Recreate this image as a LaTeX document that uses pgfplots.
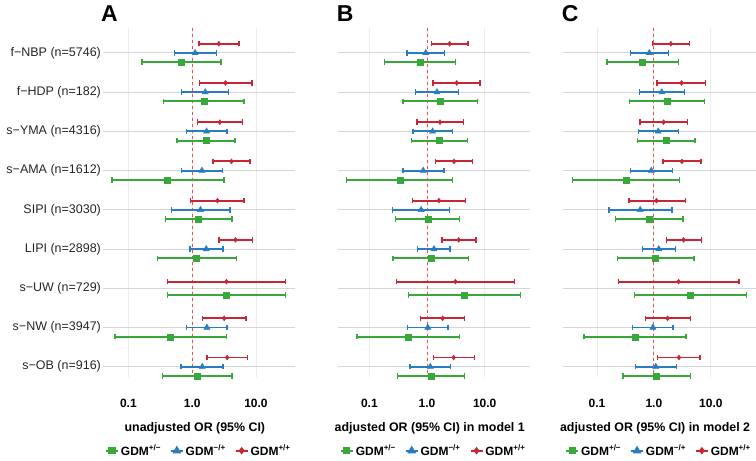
\documentclass[border=0pt]{standalone}
\usepackage{pgfplots}
\pgfplotsset{compat=1.18}
\usepackage{pgfplotstable}
\usepackage{fontspec}
\setmainfont{Liberation Sans}

\definecolor{cRed}{RGB}{200,38,52}
\definecolor{cBlue}{RGB}{42,124,192}
\definecolor{cGreen}{RGB}{56,168,58}
\definecolor{refline}{RGB}{238,80,80}

% Odds ratios with 95% CI: y position, lower, estimate, upper
% Panel A: unadjusted
\pgfplotstableread{
y lo est hi
0.765 1.27 2.62 5.45
1.765 1.30 3.33 8.6
2.765 1.21 2.71 6.2
3.765 2.13 4.13 8.0
4.765 0.94 2.49 6.5
5.765 2.62 4.77 8.8
6.83 0.406 3.45 29.3
7.765 1.45 3.17 7.0
8.765 1.70 3.53 7.4
}\ARed
\pgfplotstableread{
y lo est hi
1 0.53 1.11 2.38
2 0.68 1.60 3.71
3 0.81 1.68 3.49
4 0.68 1.42 2.99
5 0.47 1.35 3.94
6 0.92 1.66 3.06
8 0.81 1.70 3.53
9 0.67 1.44 3.06
}\ABlue
\pgfplotstableread{
y lo est hi
1.235 0.163 0.67 2.81
2.235 0.356 1.52 6.5
3.235 0.58 1.66 4.72
4.235 0.055 0.41 3.13
5.235 0.38 1.26 4.23
6.235 0.283 1.17 5.0
7.17 0.406 3.45 29.3
8.235 0.062 0.458 3.45
9.235 0.343 1.20 4.18
}\AGreen
% Panel B: model 1
\pgfplotstableread{
y lo est hi
0.765 1.19 2.47 5.14
1.765 1.27 3.27 8.3
2.765 0.67 1.68 4.27
3.765 1.40 2.94 6.19
4.765 0.557 1.61 4.69
5.765 1.82 3.54 7.08
6.83 0.298 3.10 33.1
7.765 0.776 1.87 4.50
8.765 1.31 2.90 6.62
}\BRed
\pgfplotstableread{
y lo est hi
1 0.45 0.95 2.02
2 0.63 1.49 3.54
3 0.57 1.25 2.79
4 0.384 0.86 1.97
5 0.254 0.79 2.47
6 0.69 1.32 2.50
8 0.456 1.03 2.31
9 0.507 1.14 2.57
}\BBlue
\pgfplotstableread{
y lo est hi
1.235 0.182 0.76 3.14
2.235 0.384 1.68 7.46
3.235 0.535 1.61 5.07
4.235 0.040 0.336 2.79
5.235 0.282 1.03 3.68
6.235 0.257 1.16 5.21
7.17 0.474 4.44 42.1
8.235 0.061 0.474 3.68
9.235 0.31 1.19 4.50
}\BGreen
% Panel C: model 2
\pgfplotstableread{
y lo est hi
0.765 0.95 1.99 4.22
1.765 1.13 3.06 8.06
2.765 0.568 1.48 3.90
3.765 1.44 3.10 6.68
4.765 0.364 1.11 3.55
5.765 1.65 3.32 6.77
6.83 0.24 2.71 31.0
7.765 0.705 1.74 4.34
8.765 1.17 2.75 6.50
}\CRed
\pgfplotstableread{
y lo est hi
1 0.385 0.83 1.81
2 0.553 1.38 3.45
3 0.531 1.19 2.71
4 0.385 0.90 2.10
5 0.164 0.575 2.07
6 0.633 1.22 2.40
8 0.422 0.96 2.18
9 0.47 1.08 2.50
}\CBlue
\pgfplotstableread{
y lo est hi
1.235 0.150 0.63 2.71
2.235 0.369 1.71 7.74
3.235 0.51 1.65 5.31
4.235 0.037 0.323 2.82
5.235 0.212 0.83 3.23
6.235 0.227 1.05 5.03
7.17 0.458 4.34 42.3
8.235 0.059 0.464 3.64
9.235 0.286 1.11 4.40
}\CGreen

\pgfplotsset{
  legend image code/.code={%
    \draw[#1, mark repeat=2, mark phase=2] plot coordinates {(0pt,0pt) (6pt,0pt) (12pt,0pt)};},
}
\pgfplotsset{every axis/.append style={
    scale only axis, width=192pt, height=349pt, anchor=south west,
    xmode=log, ymin=0.363, ymax=9.255, y dir=reverse,
    xtick={0.1,1,10}, xticklabels={0.1,1.0,10.0},
    ytick={1,2,3,4,5,6,7,8,9},
    xmajorgrids, ymajorgrids,
    x grid style={color=black!8, line width=0.8pt},
    y grid style={color=black!16, line width=1pt},
    axis line style={draw=none}, major tick length=0pt, minor tick length=0pt,
    tick style={draw=none}, minor tick style={draw=none},
    xticklabel style={font=\bfseries\fontsize{12}{14}\selectfont, yshift=-19pt},
    yticklabel style={font=\fontsize{12.5}{15}\selectfont, text=black!85, xshift=1.5pt},
    xlabel style={font=\bfseries\fontsize{12.4}{15}\selectfont,
      at={(axis description cs:0.5,0)}, anchor=center, yshift=-52pt, xshift=-4pt},
    legend style={at={(0.5,0)}, anchor=center, yshift=-74pt, draw=none, fill=none,
      font=\bfseries\fontsize{12}{14}\selectfont,
      /tikz/every even column/.append style={column sep=7pt}},
    legend columns=3,
    clip=false,
}}

% one group of point estimates with horizontal confidence intervals
\newcommand{\series}[4]{%
  \addplot[forget plot, only marks, color=#2, mark=#3, mark size=#4, mark options={solid, fill=#2},
    error bars/.cd, x dir=both, x explicit,
    error bar style={color=#2, line width=1.9pt},
    error mark options={color=#2, rotate=90, mark size=2.7pt, line width=1.4pt}]
    table[x=est, y=y,
      x error plus expr=\thisrow{hi}-\thisrow{est},
      x error minus expr=\thisrow{est}-\thisrow{lo}] {#1};
}
\newcommand{\reflineone}{%
  \addplot[forget plot, color=refline, dashed, line width=0.8pt] coordinates {(1,0.363) (1,9.255)};}
\newcommand{\keys}{%
  \addlegendimage{color=cGreen, line width=1.8pt, mark=square*, mark size=2.7pt, mark options={fill=cGreen}}
  \addlegendentry{GDM\textsuperscript{+/−}}
  \addlegendimage{color=cBlue, line width=1.8pt, mark=triangle*, mark size=3.3pt, mark options={fill=cBlue}}
  \addlegendentry{GDM\textsuperscript{−/+}}
  \addlegendimage{color=cRed, line width=1.8pt, mark=diamond*, mark size=2.4pt, mark options={fill=cRed}}
  \addlegendentry{GDM\textsuperscript{+/+}}
}

\begin{document}
\begin{tikzpicture}
\path (0pt,0pt) rectangle (756pt,459pt);

\begin{axis}[at={(103pt,82pt)},
  xmin=0.0399, xmax=40.6,
  yticklabels={f−NBP (n=5746),f−HDP (n=182),s−YMA (n=4316),s−AMA (n=1612),SIPI (n=3030),LIPI (n=2898),s−UW (n=729),s−NW (n=3947),s−OB (n=916)},
  xlabel={unadjusted OR (95\% CI)}]
\reflineone
\keys
\series{\AGreen}{cGreen}{square*}{3pt}
\series{\ABlue}{cBlue}{triangle*}{3.6pt}
\series{\ARed}{cRed}{diamond*}{2.5pt}
\end{axis}

\begin{axis}[at={(338pt,82pt)},
  xmin=0.0283, xmax=60.3, yticklabels={},
  xlabel={adjusted OR (95\% CI) in model 1}]
\reflineone
\keys
\series{\BGreen}{cGreen}{square*}{3pt}
\series{\BBlue}{cBlue}{triangle*}{3.6pt}
\series{\BRed}{cRed}{diamond*}{2.5pt}
\end{axis}

\begin{axis}[at={(563pt,82pt)}, width=193pt,
  xmin=0.025, xmax=60.8, yticklabels={},
  xlabel={adjusted OR (95\% CI) in model 2}]
\reflineone
\keys
\series{\CGreen}{cGreen}{square*}{3pt}
\series{\CBlue}{cBlue}{triangle*}{3.6pt}
\series{\CRed}{cRed}{diamond*}{2.5pt}
\end{axis}

\node[anchor=base west, inner sep=0pt, font=\bfseries\fontsize{23}{23}\selectfont] at (101pt,437pt) {A};
\node[anchor=base west, inner sep=0pt, font=\bfseries\fontsize{23}{23}\selectfont] at (337pt,437pt) {B};
\node[anchor=base west, inner sep=0pt, font=\bfseries\fontsize{23}{23}\selectfont] at (562pt,437pt) {C};
\end{tikzpicture}
\end{document}
